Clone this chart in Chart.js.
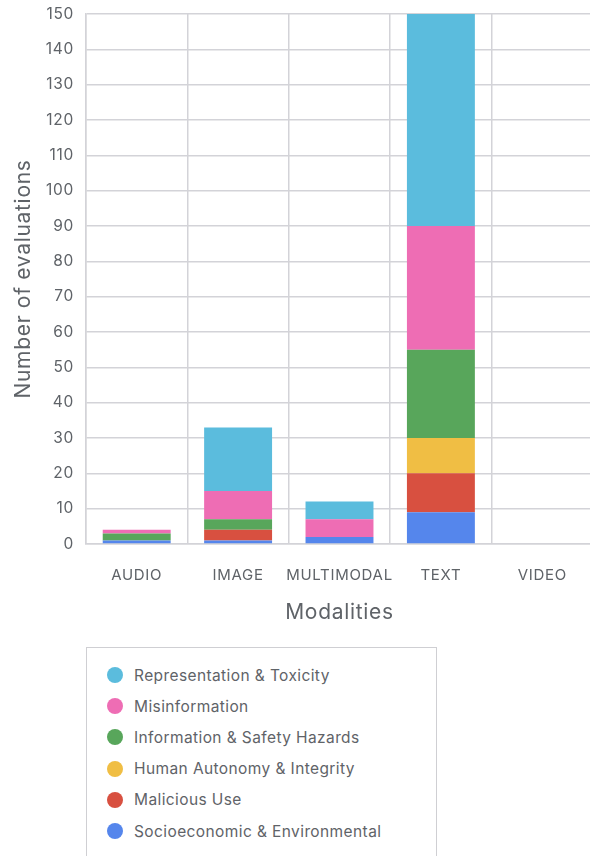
<!DOCTYPE html>
<html>
<head>
<meta charset="utf-8">
<script src="https://cdn.jsdelivr.net/npm/chart.js@4/dist/chart.umd.min.js"></script>
<style>
  html, body { margin: 0; padding: 0; background: #fff; width: 590px; height: 856px; overflow: hidden; }
  #wrap { position: absolute; left: 0; top: 0; width: 600px; height: 640px; }
  #legend { position: absolute; left: 86px; top: 647px; width: 351px; height: 230px; border: 1px solid #cfcfd3; box-sizing: border-box; font-family: Inter, sans-serif; }
  .item { position: absolute; left: 20px; height: 20px; display: flex; align-items: center; font-size: 15.5px; letter-spacing: 0.4px; color: #5f6368; }
  .dot { width: 16px; height: 16px; border-radius: 50%; margin-right: 11px; }
</style>
</head>
<body>
<div id="wrap"><canvas id="c" width="600" height="640"></canvas></div>
<div id="legend"></div>
<script>
const categories = ["AUDIO", "IMAGE", "MULTIMODAL", "TEXT", "VIDEO"];
const seriesNames = [
  "Socioeconomic & Environmental",
  "Malicious Use",
  "Human Autonomy & Integrity",
  "Information & Safety Hazards",
  "Misinformation",
  "Representation & Toxicity"
];
const socioeconomic  = [1, 1, 2, 9, 0];
const maliciousUse   = [0, 3, 0, 11, 0];
const humanAutonomy  = [0, 0, 0, 10, 0];
const infoSafety     = [2, 3, 0, 25, 0];
const misinformation = [1, 8, 5, 35, 0];
const representation = [0, 18, 5, 60, 0];
const seriesColors = ["#5586EC", "#D85040", "#F0BE44", "#58A65B", "#EE6DB4", "#5BBCDD"];
const yTicks = { min: 0, max: 150, step: 10 };

const seriesValues = [socioeconomic, maliciousUse, humanAutonomy, infoSafety, misinformation, representation];
const datasets = seriesNames.map((name, i) => ({
  label: name,
  data: seriesValues[i],
  backgroundColor: seriesColors[i],
  borderWidth: 0,
  categoryPercentage: 1,
  barPercentage: 0.67
}));

const FONT = 'Inter';
const spacing = {
  id: 'spacing',
  beforeLayout(c) { c.ctx.letterSpacing = '0.7px'; },
  beforeDraw(c) { c.ctx.letterSpacing = '0.7px'; }
};
const chart = new Chart(document.getElementById('c'), {
  type: 'bar',
  data: { labels: categories, datasets },
  plugins: [spacing],
  options: {
    responsive: false,
    animation: false,
    layout: { padding: { top: 0, right: 7, left: 0, bottom: 0 } },
    plugins: { legend: { display: false }, tooltip: { enabled: false } },
    scales: {
      x: {
        stacked: true,
        grid: { color: '#d3d3d8', lineWidth: 1.5, drawTicks: false, offset: true },
        border: { color: '#d3d3d8', width: 1.5 },
        ticks: { padding: 22, maxRotation: 0, autoSkip: false, color: '#5f6368', font: { family: FONT, size: 15 } },
        title: { display: true, text: 'Modalities', color: '#5f6368', font: { family: FONT, size: 21 }, padding: { top: 14, bottom: 15 } },
        afterFit: (s) => { s.height = 96; s.paddingLeft = 0; s.paddingRight = 0; }
      },
      y: {
        stacked: true,
        min: yTicks.min, max: yTicks.max,
        grid: { color: '#d3d3d8', lineWidth: 1.5, drawTicks: false },
        border: { color: '#d3d3d8', width: 1.5 },
        ticks: { stepSize: yTicks.step, padding: 12, color: '#5f6368', font: { family: FONT, size: 15.5 } },
        title: { display: true, text: 'Number of evaluations', color: '#5f6368', font: { family: FONT, size: 21 }, padding: { top: 11, bottom: 0 } },
        afterFit: (s) => { s.width = 86; s.paddingTop = 14; s.paddingBottom = 0; }
      }
    }
  }
});

const legend = document.getElementById('legend');
[...datasets].reverse().forEach((d, i) => {
  const el = document.createElement('div');
  el.className = 'item';
  el.style.top = (17 + i * 31.2) + 'px';
  const dot = document.createElement('span');
  dot.className = 'dot';
  dot.style.background = d.backgroundColor;
  const t = document.createElement('span');
  t.textContent = d.label;
  el.appendChild(dot); el.appendChild(t);
  legend.appendChild(el);
});
</script>
</body>
</html>
